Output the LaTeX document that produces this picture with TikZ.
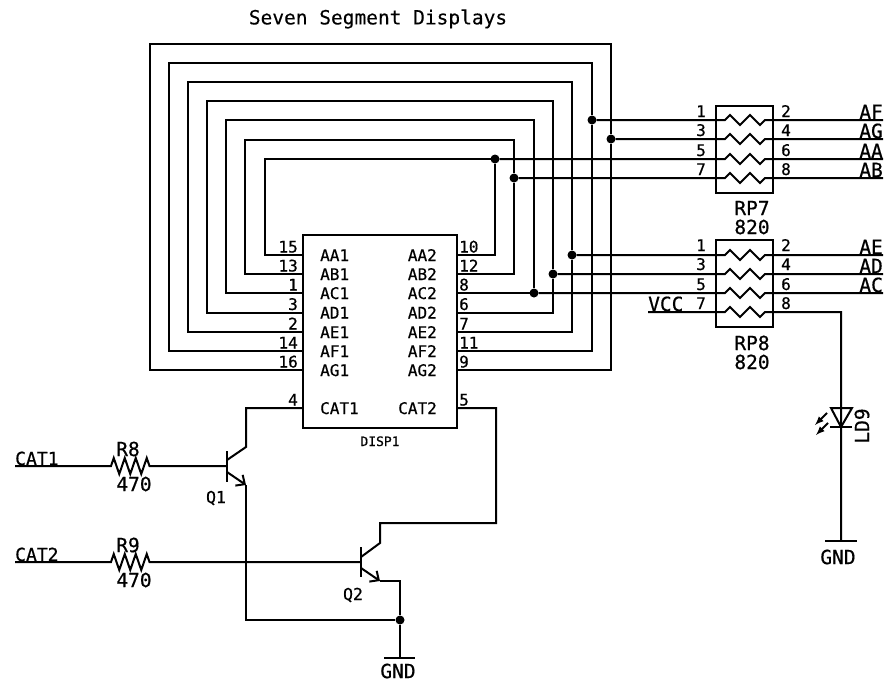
\documentclass[tikz,border=0pt]{standalone}
\usepackage{fontspec}
\setmainfont[FakeBold=0.6]{DejaVu Sans Mono}
\newfontfamily\titlefont[FakeBold=0.25]{DejaVu Sans Mono}
\usetikzlibrary{arrows.meta}
\usetikzlibrary{decorations.pathmorphing}
\pgfdeclarelayer{edgelayer}
\pgfdeclarelayer{nodelayer}
\pgfsetlayers{edgelayer,nodelayer,main}
\tikzstyle{wire}=[draw=black,line width=2pt,line join=miter]
\tikzstyle{chip}=[rectangle,draw=black,line width=2.5pt,fill=none,inner sep=0pt]
\tikzstyle{junction}=[circle,fill=black,inner sep=0pt,minimum size=9pt]
\tikzstyle{bigtext}=[inner sep=0pt,font=\fontsize{19.5}{20}\selectfont]
\tikzstyle{pintext}=[inner sep=0pt,font=\fontsize{16}{16}\selectfont]
\tikzstyle{packzig}=[decoration={zigzag,amplitude=5pt,segment length=20pt}]
\tikzstyle{rzig}=[decoration={zigzag,amplitude=8pt,segment length=11pt}]
\tikzstyle{emitter}=[wire,-{Straight Barb[length=7pt,width=13pt,line width=2pt]}]
\tikzstyle{glow}=[draw=black,line width=2pt,-latex]

\begin{document}
\begin{tikzpicture}[x=1pt,y=1pt]
	\useasboundingbox (0,0) rectangle (888,-686);
	\begin{pgfonlayer}{nodelayer}
		\node [style=bigtext, font=\titlefont\fontsize{19.5}{20}\selectfont] (title) at (378,-19) {Seven Segment Displays};
		% display
		\node [style=chip, minimum width=154pt, minimum height=193pt] (disp) at (380,-331.5) {};
		\node [style=pintext, anchor=base, font=\fontsize{13}{13}\selectfont] (dispname) at (380,-446) {DISP1};
		\node [style=pintext, anchor=base west] (tAA1) at (320,-261) {AA1};
		\node [style=pintext, anchor=base west] (tAB1) at (320,-280) {AB1};
		\node [style=pintext, anchor=base west] (tAC1) at (320,-299) {AC1};
		\node [style=pintext, anchor=base west] (tAD1) at (320,-318.5) {AD1};
		\node [style=pintext, anchor=base west] (tAE1) at (320,-338) {AE1};
		\node [style=pintext, anchor=base west] (tAF1) at (320,-357) {AF1};
		\node [style=pintext, anchor=base west] (tAG1) at (320,-376) {AG1};
		\node [style=pintext, anchor=base west] (tCAT1) at (320,-414) {CAT1};
		\node [style=pintext, anchor=base east] (tAA2) at (437,-261) {AA2};
		\node [style=pintext, anchor=base east] (tAB2) at (437,-280) {AB2};
		\node [style=pintext, anchor=base east] (tAC2) at (437,-299) {AC2};
		\node [style=pintext, anchor=base east] (tAD2) at (437,-318.5) {AD2};
		\node [style=pintext, anchor=base east] (tAE2) at (437,-338) {AE2};
		\node [style=pintext, anchor=base east] (tAF2) at (437,-357) {AF2};
		\node [style=pintext, anchor=base east] (tAG2) at (437,-376) {AG2};
		\node [style=pintext, anchor=base east] (tCAT2) at (437,-414) {CAT2};
		% pin numbers
		\node [style=pintext, anchor=base east] (n15) at (298,-252.5) {15};
		\node [style=pintext, anchor=base east] (n13) at (298,-271.5) {13};
		\node [style=pintext, anchor=base east] (n1) at (298,-290.5) {1};
		\node [style=pintext, anchor=base east] (n3) at (298,-310) {3};
		\node [style=pintext, anchor=base east] (n2) at (298,-329.5) {2};
		\node [style=pintext, anchor=base east] (n14) at (298,-348.5) {14};
		\node [style=pintext, anchor=base east] (n16) at (298,-367.5) {16};
		\node [style=pintext, anchor=base east] (n4) at (298,-405.5) {4};
		\node [style=pintext, anchor=base west] (n10) at (459,-252.5) {10};
		\node [style=pintext, anchor=base west] (n12) at (459,-271.5) {12};
		\node [style=pintext, anchor=base west] (n8) at (459,-290.5) {8};
		\node [style=pintext, anchor=base west] (n6) at (459,-310) {6};
		\node [style=pintext, anchor=base west] (n7) at (459,-329.5) {7};
		\node [style=pintext, anchor=base west] (n11) at (459,-348.5) {11};
		\node [style=pintext, anchor=base west] (n9) at (459,-367.5) {9};
		\node [style=pintext, anchor=base west] (n5) at (459,-405.5) {5};
		% pin ends on the display
		\coordinate (lA) at (303,-255);
		\coordinate (lB) at (303,-274);
		\coordinate (lC) at (303,-293);
		\coordinate (lD) at (303,-312.5);
		\coordinate (lE) at (303,-332);
		\coordinate (lF) at (303,-351);
		\coordinate (lG) at (303,-370);
		\coordinate (lK) at (303,-408);
		\coordinate (rA) at (457,-255);
		\coordinate (rB) at (457,-274);
		\coordinate (rC) at (457,-293);
		\coordinate (rD) at (457,-312.5);
		\coordinate (rE) at (457,-332);
		\coordinate (rF) at (457,-351);
		\coordinate (rG) at (457,-370);
		\coordinate (rK) at (457,-408);
		% corners of the loops
		\coordinate (cA) at (265,-159);
		\coordinate (cB) at (245,-139.5);
		\coordinate (cC) at (226,-120);
		\coordinate (cD) at (207,-101);
		\coordinate (cE) at (188,-82);
		\coordinate (cF) at (169,-63);
		\coordinate (cG) at (150,-44);
		\node [style=junction] (jA) at (495,-159) {};
		\node [style=junction] (jB) at (514,-178) {};
		\node [style=junction] (jC) at (534,-293) {};
		\node [style=junction] (jD) at (553,-274) {};
		\node [style=junction] (jE) at (572,-255) {};
		\node [style=junction] (jF) at (592,-120) {};
		\node [style=junction] (jG) at (611,-139) {};
		% resistor packs
		\node [style=chip, minimum width=57pt, minimum height=87pt] (rp7) at (744.5,-149.5) {};
		\node [style=chip, minimum width=57pt, minimum height=87pt] (rp8) at (744.5,-283.5) {};
		\node [style=bigtext] (rp7name) at (752,-208) {RP7};
		\node [style=bigtext] (rp7val) at (752,-227) {820};
		\node [style=bigtext] (rp8name) at (752,-343) {RP8};
		\node [style=bigtext] (rp8val) at (752,-362) {820};
		\node [style=pintext, anchor=base] (a1) at (701,-117) {1};
		\node [style=pintext, anchor=base] (a3) at (701,-136) {3};
		\node [style=pintext, anchor=base] (a5) at (701,-156) {5};
		\node [style=pintext, anchor=base] (a7) at (701,-175) {7};
		\node [style=pintext, anchor=base] (a2) at (786,-117) {2};
		\node [style=pintext, anchor=base] (a4) at (786,-136) {4};
		\node [style=pintext, anchor=base] (a6) at (786,-156) {6};
		\node [style=pintext, anchor=base] (a8) at (786,-175) {8};
		\node [style=pintext, anchor=base] (b1) at (701,-251) {1};
		\node [style=pintext, anchor=base] (b3) at (701,-270) {3};
		\node [style=pintext, anchor=base] (b5) at (701,-290) {5};
		\node [style=pintext, anchor=base] (b7) at (701,-309) {7};
		\node [style=pintext, anchor=base] (b2) at (786,-251) {2};
		\node [style=pintext, anchor=base] (b4) at (786,-270) {4};
		\node [style=pintext, anchor=base] (b6) at (786,-290) {6};
		\node [style=pintext, anchor=base] (b8) at (786,-309) {8};
		\node [style=bigtext, anchor=base east] (oAF) at (883,-119) {AF};
		\node [style=bigtext, anchor=base east] (oAG) at (883,-138) {AG};
		\node [style=bigtext, anchor=base east] (oAA) at (883,-158) {AA};
		\node [style=bigtext, anchor=base east] (oAB) at (883,-177) {AB};
		\node [style=bigtext, anchor=base east] (oAE) at (883,-254) {AE};
		\node [style=bigtext, anchor=base east] (oAD) at (883,-273) {AD};
		\node [style=bigtext, anchor=base east] (oAC) at (883,-292) {AC};
		\node [style=bigtext, anchor=base west] (vcc) at (648,-311) {VCC};
		\coordinate (a1i) at (725,-120);
		\coordinate (a2i) at (765,-120);
		\coordinate (a3i) at (725,-139);
		\coordinate (a4i) at (765,-139);
		\coordinate (a5i) at (725,-159);
		\coordinate (a6i) at (765,-159);
		\coordinate (a7i) at (725,-178);
		\coordinate (a8i) at (765,-178);
		\coordinate (b1i) at (725,-255);
		\coordinate (b2i) at (765,-255);
		\coordinate (b3i) at (725,-274);
		\coordinate (b4i) at (765,-274);
		\coordinate (b5i) at (725,-293);
		\coordinate (b6i) at (765,-293);
		\coordinate (b7i) at (725,-312);
		\coordinate (b8i) at (765,-312);
		\coordinate (a2o) at (883,-120);
		\coordinate (a4o) at (883,-139);
		\coordinate (a6o) at (883,-159);
		\coordinate (a8o) at (883,-178);
		\coordinate (b2o) at (883,-255);
		\coordinate (b4o) at (883,-274);
		\coordinate (b6o) at (883,-293);
		\coordinate (b7o) at (648,-312);
		% led
		\coordinate (ledtop) at (841,-312);
		\coordinate (ledl) at (831,-408);
		\coordinate (ledr) at (852,-408);
		\coordinate (ledk) at (841,-427);
		\coordinate (ledkl) at (830,-427);
		\coordinate (ledkr) at (852,-427);
		\coordinate (ledgnd) at (841,-541);
		\coordinate (ledgl) at (825,-541);
		\coordinate (ledgr) at (857,-541);
		\coordinate (g1a) at (827,-413);
		\coordinate (g1b) at (815,-425);
		\coordinate (g2a) at (828,-423);
		\coordinate (g2b) at (816,-435);
		\node [style=bigtext, rotate=90] (ld9) at (862,-426) {LD9};
		\node [style=bigtext] (gnd2) at (838,-557) {GND};
		% transistors
		\node [style=bigtext, anchor=base west, font=\fontsize{18}{18}\selectfont] (cat1) at (15,-465) {CAT1};
		\node [style=bigtext, anchor=base west, font=\fontsize{18}{18}\selectfont] (cat2) at (15,-561) {CAT2};
		\node [style=bigtext] (r8) at (128,-449) {R8};
		\node [style=bigtext] (r8val) at (134,-484) {470};
		\node [style=bigtext] (r9) at (128,-545) {R9};
		\node [style=bigtext] (r9val) at (134,-580) {470};
		\node [style=bigtext, font=\fontsize{16.5}{16.5}\selectfont] (q1) at (216,-498) {Q1};
		\node [style=bigtext, font=\fontsize{16.5}{16.5}\selectfont] (q2) at (353,-595) {Q2};
		\node [style=bigtext] (gnd1) at (398,-671) {GND};
		\node [style=junction] (jG1) at (400,-620) {};
		\coordinate (c1s) at (15,-466);
		\coordinate (r8a) at (111,-466);
		\coordinate (r8b) at (150,-466);
		\coordinate (q1b) at (227,-466);
		\coordinate (q1t) at (227,-451);
		\coordinate (q1d) at (227,-482);
		\coordinate (q1c) at (227,-460);
		\coordinate (q1k) at (246,-447);
		\coordinate (q1e) at (227,-472);
		\coordinate (q1x) at (246,-485);
		\coordinate (q1g) at (246,-620);
		\coordinate (c2s) at (15,-562);
		\coordinate (r9a) at (111,-562);
		\coordinate (r9b) at (150,-562);
		\coordinate (q2b) at (361,-562);
		\coordinate (q2t) at (361,-547);
		\coordinate (q2d) at (361,-577);
		\coordinate (q2c) at (361,-557);
		\coordinate (q2k) at (380,-543);
		\coordinate (q2u) at (380,-523);
		\coordinate (q2v) at (496,-523);
		\coordinate (q2e) at (361,-568);
		\coordinate (q2x) at (380,-581);
		\coordinate (q2y) at (400,-581);
		\coordinate (gnd1c) at (400,-658);
		\coordinate (gnd1l) at (384,-658);
		\coordinate (gnd1r) at (415,-658);
	\end{pgfonlayer}
	\begin{pgfonlayer}{edgelayer}
		\draw [style=wire] (lA) -| (cA) -- (cA -| jA) -- (jA) |- (rA);
		\draw [style=wire] (lB) -| (cB) -- (cB -| jB) -- (jB) |- (rB);
		\draw [style=wire] (lC) -| (cC) -- (cC -| jC) -- (jC) |- (rC);
		\draw [style=wire] (lD) -| (cD) -- (cD -| jD) -- (jD) |- (rD);
		\draw [style=wire] (lE) -| (cE) -- (cE -| jE) -- (jE) |- (rE);
		\draw [style=wire] (lF) -| (cF) -- (cF -| jF) -- (jF) |- (rF);
		\draw [style=wire] (lG) -| (cG) -- (cG -| jG) -- (jG) |- (rG);
		\draw [style=wire, style=packzig] (jF) -- (a1i) decorate {-- (a2i)} -- (a2o);
		\draw [style=wire, style=packzig] (jG) -- (a3i) decorate {-- (a4i)} -- (a4o);
		\draw [style=wire, style=packzig] (jA) -- (a5i) decorate {-- (a6i)} -- (a6o);
		\draw [style=wire, style=packzig] (jB) -- (a7i) decorate {-- (a8i)} -- (a8o);
		\draw [style=wire, style=packzig] (jE) -- (b1i) decorate {-- (b2i)} -- (b2o);
		\draw [style=wire, style=packzig] (jD) -- (b3i) decorate {-- (b4i)} -- (b4o);
		\draw [style=wire, style=packzig] (jC) -- (b5i) decorate {-- (b6i)} -- (b6o);
		\draw [style=wire, style=packzig] (b7o) -- (b7i) decorate {-- (b8i)} -- (ledtop) -- (ledk) -- (ledgnd);
		\draw [style=wire] (ledl) -- (ledr) -- (ledk) -- cycle;
		\draw [style=wire] (ledkl) -- (ledkr);
		\draw [style=wire] (ledgl) -- (ledgr);
		\draw [style=glow] (g1a) -- (g1b);
		\draw [style=glow] (g2a) -- (g2b);
		\draw [style=wire, style=rzig] (c1s) -- (r8a) decorate {-- (r8b)} -- (q1b);
		\draw [style=wire, style=rzig] (c2s) -- (r9a) decorate {-- (r9b)} -- (q2b);
		\draw [style=wire, line width=2.5pt] (q1t) -- (q1d);
		\draw [style=wire, line width=2.5pt] (q2t) -- (q2d);
		\draw [style=wire] (lK) -| (q1k) -- (q1c);
		\draw [style=emitter] (q1e) -- (q1x);
		\draw [style=wire] (q1x) -- (q1g) -- (jG1);
		\draw [style=wire] (rK) -| (q2v) -- (q2u) -- (q2k) -- (q2c);
		\draw [style=emitter] (q2e) -- (q2x);
		\draw [style=wire] (q2x) -- (q2y) -- (jG1) -- (gnd1c);
		\draw [style=wire] (gnd1l) -- (gnd1r);
	\end{pgfonlayer}
\end{tikzpicture}
\end{document}
